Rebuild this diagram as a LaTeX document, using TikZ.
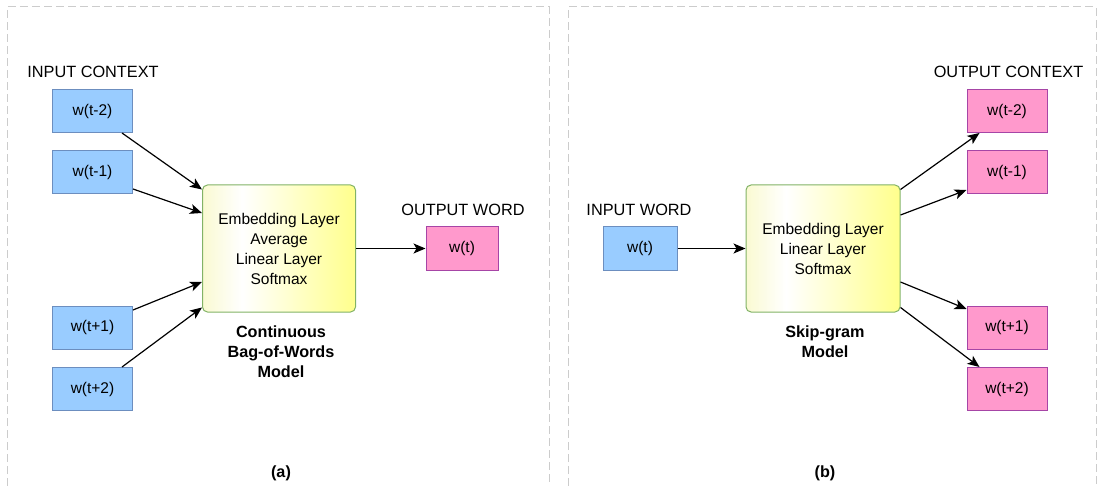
\documentclass[tikz,border=0pt]{standalone}
\usepackage{fontspec}
\setmainfont{Liberation Sans}
\usetikzlibrary{arrows.meta,calc}
\definecolor{bluefill}{HTML}{99CCFF}
\definecolor{bluedraw}{HTML}{6C8EBF}
\definecolor{pinkfill}{HTML}{FF99CC}
\definecolor{pinkdraw}{HTML}{A645A6}
\definecolor{greendraw}{HTML}{82B366}
\definecolor{yelA}{HTML}{FAFAD2}
\definecolor{yelB}{HTML}{FFFF8C}
\definecolor{framegray}{HTML}{CCCCCC}
\pgfdeclarehorizontalshading{cbshade}{100bp}{color(0bp)=(yelA); color(25bp)=(yelA); color(38bp)=(white); color(75bp)=(yelB); color(100bp)=(yelB)}
\tikzset{
  txt/.style={font=\fontsize{15.5}{20}\selectfont, inner sep=0pt},
  lbl/.style={font=\fontsize{16.3}{20}\selectfont, inner sep=0pt},
  bluebox/.style={txt, draw=bluedraw, fill=bluefill, line width=1pt, minimum width=80pt, minimum height=43pt},
  pinkbox/.style={txt, draw=pinkdraw, fill=pinkfill, line width=1pt, minimum width=80pt, minimum height=43pt},
  centerbox/.style={txt, draw=greendraw, line width=1pt, rounded corners=5pt, shading=cbshade, align=center, minimum width=153pt, minimum height=127pt},
  caption/.style={inner sep=0pt, font=\fontsize{16.2}{20}\selectfont\bfseries, align=center},
  arr/.style={line width=1.2pt, -{Stealth[length=12pt,width=10pt,inset=3pt]}},
  frame/.style={draw=framegray, line width=1pt, dash pattern=on 8pt off 4pt}
}
\begin{document}
\begin{tikzpicture}[x=1pt,y=-1pt]
\useasboundingbox (0,0) rectangle (1102,486);
% frames
\draw[frame] (7,486) -- (7,7) -- (549,7) -- (549,486);
\draw[frame] (568,486) -- (568,7) -- (1096,7) -- (1096,486);
% (a) CBOW
\node[lbl] (lab1) at (93,72) {INPUT CONTEXT};
\node[bluebox] (in1) at (92.5,111) {w(t-2)};
\node[bluebox] (in2) at (92.5,172) {w(t-1)};
\node[bluebox] (in3) at (92.5,327.5) {w(t+1)};
\node[bluebox] (in4) at (92.5,389) {w(t+2)};
\node[centerbox] (cb) at (279,248.5) {Embedding Layer\\Average\\Linear Layer\\Softmax};
\node[lbl] (lab2) at (463,210) {OUTPUT WORD};
\node[pinkbox, minimum width=72pt] (out) at (462,248.5) {w(t)};
\node[caption] (cap1) at (281,352) {Continuous\\Bag-of-Words\\Model};
\node[caption] (capa) at (281,473) {(a)};
\draw[arr] ($(in1.south east)+(-11,0)$) -- ($(cb.north west)+(0,5)$);
\draw[arr] ($(in2.east)+(0,17)$) -- ($(cb.west)+(0,-35.5)$);
\draw[arr] ($(in3.north east)+(0,4.5)$) -- ($(cb.west)+(0,33.5)$);
\draw[arr] ($(in4.north east)+(-11,0)$) -- ($(cb.south west)+(0,-5)$);
\draw[arr] (cb.east) -- (out.west);
% (b) Skip-gram
\node[lbl] (lab3) at (639,210) {INPUT WORD};
\node[bluebox, minimum width=74pt] (win) at (640,248.5) {w(t)};
\node[centerbox, minimum width=154pt] (cb2) at (823,248.5) {Embedding Layer\\Linear Layer\\Softmax};
\node[lbl] (lab4) at (1008.5,72) {OUTPUT CONTEXT};
\node[pinkbox] (o1) at (1007,111) {w(t-2)};
\node[pinkbox] (o2) at (1007,172) {w(t-1)};
\node[pinkbox] (o3) at (1007,327.5) {w(t+1)};
\node[pinkbox] (o4) at (1007,389) {w(t+2)};
\node[caption] (cap2) at (825,342) {Skip-gram\\Model};
\node[caption] (capb) at (825,473) {(b)};
\draw[arr] (win.east) -- (cb2.west);
\draw[arr] ($(cb2.north east)+(0,5)$) -- ($(o1.south west)+(13,0)$);
\draw[arr] ($(cb2.east)+(0,-33.5)$) -- ($(o2.west)+(0,18)$);
\draw[arr] ($(cb2.east)+(0,33.5)$) -- ($(o3.west)+(0,-18.5)$);
\draw[arr] ($(cb2.south east)+(0,-5)$) -- ($(o4.north west)+(13,0)$);
\end{tikzpicture}
\end{document}
